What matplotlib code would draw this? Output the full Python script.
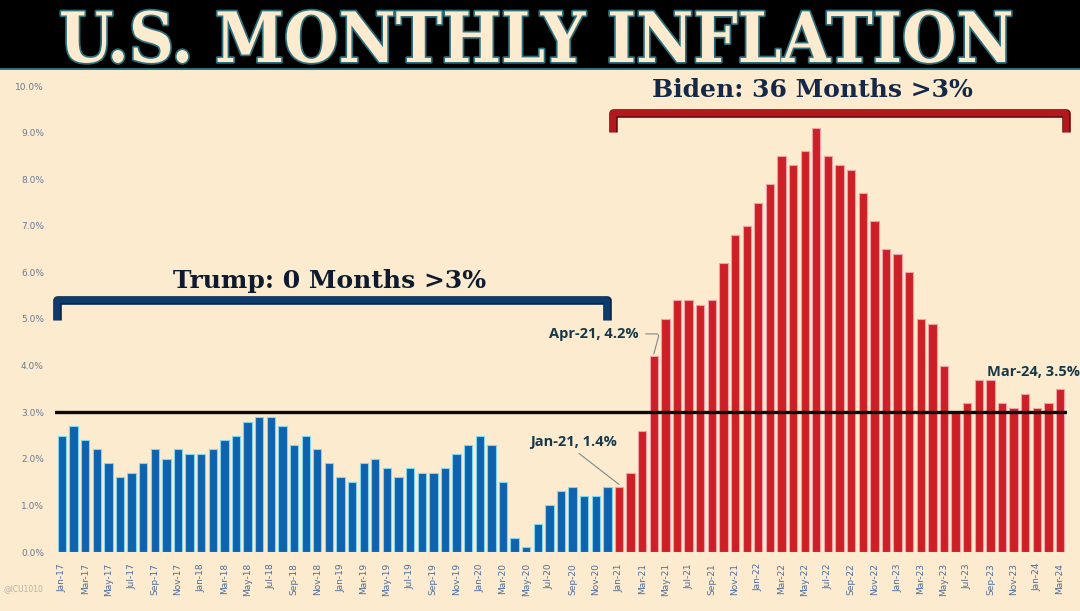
import matplotlib
matplotlib.use("Agg")
import matplotlib.pyplot as plt
import matplotlib.patheffects as pe
import numpy as np

# ---- data ----
months = ["Jan", "Feb", "Mar", "Apr", "May", "Jun", "Jul", "Aug", "Sep", "Oct", "Nov", "Dec"]
labels = [f"{m}-{y}" for y in ["17", "18", "19", "20", "21", "22", "23", "24"] for m in months][:87]

trump_values = [2.5, 2.7, 2.4, 2.2, 1.9, 1.6, 1.7, 1.9, 2.2, 2.0, 2.2, 2.1,
                2.1, 2.2, 2.4, 2.5, 2.8, 2.9, 2.9, 2.7, 2.3, 2.5, 2.2, 1.9,
                1.6, 1.5, 1.9, 2.0, 1.8, 1.6, 1.8, 1.7, 1.7, 1.8, 2.1, 2.3,
                2.5, 2.3, 1.5, 0.3, 0.1, 0.6, 1.0, 1.3, 1.4, 1.2, 1.2, 1.4]
biden_values = [1.4, 1.7, 2.6, 4.2, 5.0, 5.4, 5.4, 5.3, 5.4, 6.2, 6.8, 7.0,
                7.5, 7.9, 8.5, 8.3, 8.6, 9.1, 8.5, 8.3, 8.2, 7.7, 7.1, 6.5,
                6.4, 6.0, 5.0, 4.9, 4.0, 3.0, 3.2, 3.7, 3.7, 3.2, 3.1, 3.4,
                3.1, 3.2, 3.5]
threshold = 3.0
yticks = [0, 1, 2, 3, 4, 5, 6, 7, 8, 9, 10]

BG = "#FCEBCF"
fig = plt.figure(figsize=(10.8, 6.11), dpi=100, facecolor=BG)

# title band
band = fig.add_axes([0, 1 - 70 / 611, 1, 70 / 611])
band.set_facecolor("black")
band.set_xlim(0, 1); band.set_ylim(0, 1)
band.set_xticks([]); band.set_yticks([])
for s in band.spines.values():
    s.set_visible(False)
band.axhline(0.01, color="#2a7a8a", lw=2)
band.text(0.497, 1 - 62 / 70, "U.S. MONTHLY INFLATION", ha="center", va="baseline",
          fontsize=50, fontweight="bold", family="DejaVu Serif", fontstretch="condensed",
          color="#FCEBCF",
          path_effects=[pe.withStroke(linewidth=2.5, foreground="#2a6f7c")])

ax = fig.add_axes([55 / 1080, 1 - 552 / 611, (1067 - 55) / 1080, (552 - 86) / 611])
ax.set_facecolor(BG)

nT = len(trump_values)
xT = np.arange(nT)
xB = np.arange(nT, nT + len(biden_values))
ax.bar(xT, trump_values, width=0.72, color="#0f62ad", edgecolor="#7fd6ee", linewidth=0.8, zorder=2)
ax.bar(xB, biden_values, width=0.72, color="#cc1f26", edgecolor="#f0a0a8", linewidth=0.8, zorder=2)
ax.axhline(threshold, color="#0a0a0a", lw=2.4, zorder=3)

ax.set_xlim(-0.6, nT + len(biden_values) - 0.4)
ax.set_ylim(0, 10)
ax.set_yticks(yticks)
ax.set_yticklabels([f"{v:.1f}%" for v in yticks], fontsize=6.5, color="#6b7896")
xt = np.arange(0, len(labels), 2)
ax.set_xticks(xt)
ax.set_xticklabels([labels[i] for i in xt], rotation=90, fontsize=6.5, color="#4d6c9c")
ax.tick_params(length=0, pad=8)
for s in ax.spines.values():
    s.set_visible(False)

# brackets
def bracket(x0, x1, ytop, ybot, color, edge):
    ax.plot([x0, x0, x1, x1], [ybot, ytop, ytop, ybot], color=edge, lw=6.2,
            solid_joinstyle="round", solid_capstyle="butt", zorder=4, clip_on=False)
    ax.plot([x0, x0, x1, x1], [ybot, ytop, ytop, ybot], color=color, lw=4.4,
            solid_joinstyle="round", solid_capstyle="butt", zorder=5, clip_on=False)

bracket(-0.4, 47.0, 5.40, 4.98, "#0d3b6e", "#06264a")
bracket(47.45, 86.55, 9.42, 9.02, "#b3181d", "#6a0d10")

serif_kw = dict(family="DejaVu Serif", fontweight="bold", ha="center", va="center",
                fontsize=18, color="#0e1b2e", zorder=6)
ax.text(23.1, 5.82, "Trump: 0 Months >3%", **serif_kw)
ax.text(64.7, 9.92, "Biden: 36 Months >3%", **{**serif_kw, "color": "#152848"})

ann_kw = dict(fontsize=10.5, fontweight="bold", family="Open Sans", color="#16384a", zorder=6)
ax.annotate("Apr-21, 4.2%", xy=(xB[3], 4.25), xytext=(49.7, 4.68), ha="right", va="center",
            arrowprops=dict(arrowstyle="-", color="#7a8a8a", lw=0.8, relpos=(1.0, 0.5),
                            shrinkA=3, shrinkB=0,
                            connectionstyle="angle,angleA=0,angleB=75,rad=3"), **ann_kw)
ax.annotate("Jan-21, 1.4%", xy=(xB[0], 1.45), xytext=(47.8, 2.36), ha="right", va="center",
            arrowprops=dict(arrowstyle="-", color="#7a8a8a", lw=0.8,
                            relpos=(0.5, 0), shrinkA=2, shrinkB=0), **ann_kw)
ax.text(87.7, 3.86, "Mar-24, 3.5%", ha="right", va="center", clip_on=False, **ann_kw)

fig.text(3 / 1080, 1 - 589 / 611, "@ICU1010", fontsize=5.5, color="#b8b2a8", va="center")

fig.savefig("out.png", dpi=100, facecolor=BG)
